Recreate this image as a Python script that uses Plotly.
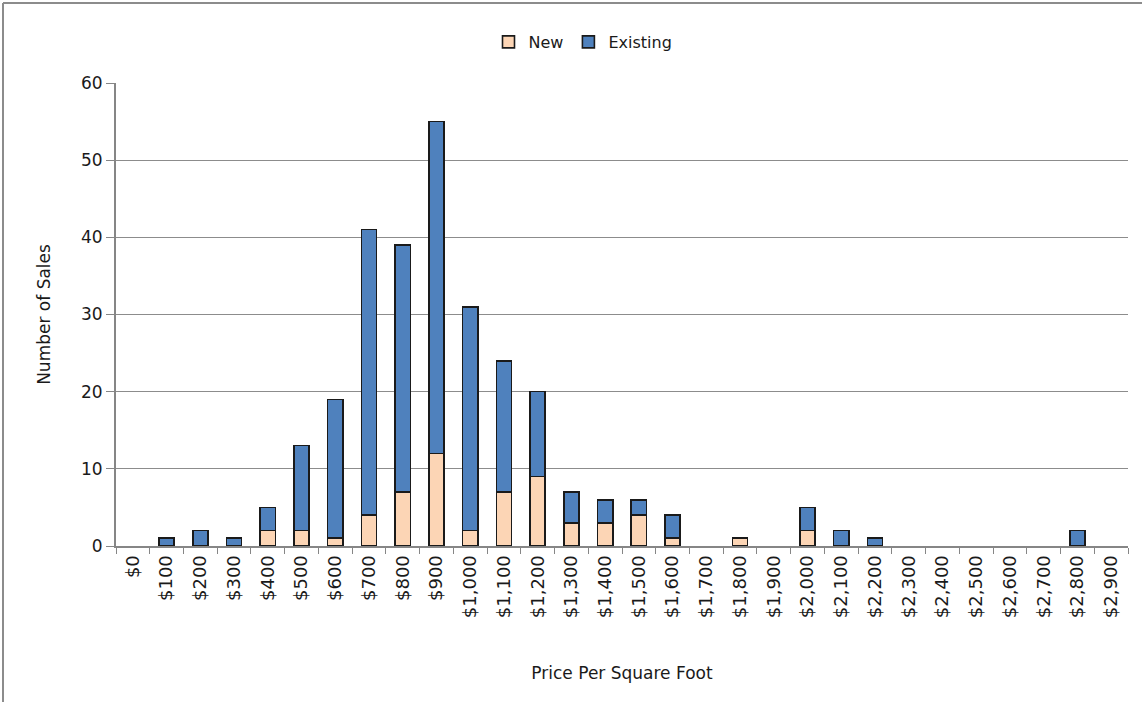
import plotly.graph_objects as go

# Price bins ($ per square foot) and sales counts per bin
price_bins = ["$0", "$100", "$200", "$300", "$400", "$500", "$600", "$700", "$800", "$900",
              "$1,000", "$1,100", "$1,200", "$1,300", "$1,400", "$1,500", "$1,600", "$1,700",
              "$1,800", "$1,900", "$2,000", "$2,100", "$2,200", "$2,300", "$2,400", "$2,500",
              "$2,600", "$2,700", "$2,800", "$2,900"]
new_sales = [0, 0, 0, 0, 2, 2, 1, 4, 7, 12,
             2, 7, 9, 3, 3, 4, 1, 0, 1, 0,
             2, 0, 0, 0, 0, 0, 0, 0, 0, 0]
existing_sales = [0, 1, 2, 1, 3, 11, 18, 37, 32, 43,
                  29, 17, 11, 4, 3, 2, 3, 0, 0, 0,
                  3, 2, 1, 0, 0, 0, 0, 0, 2, 0]
y_ticks = [0, 10, 20, 30, 40, 50, 60]

FONT = "'DejaVu Sans', sans-serif"
W, H = 1142, 702
L, R, T, B = 116, 14, 83, 156
pw, ph = W - L - R, H - T - B


def px_x(x):
    return (x - L) / pw


def px_y(y):
    return (H - B - y) / ph


def hide_zero(values):
    # empty bins get no bar (and therefore no outline)
    return [v if v else None for v in values]


fig = go.Figure()
fig.add_trace(go.Bar(x=price_bins, y=hide_zero(new_sales), name="New",
                     marker=dict(color="#FCD5B5", line=dict(color="#1a1a1a", width=1.6))))
fig.add_trace(go.Bar(x=price_bins, y=hide_zero(existing_sales), name="Existing",
                     marker=dict(color="#4F81BD", line=dict(color="#1a1a1a", width=1.6))))

# outer chart frame: top and left edges
frame = dict(color="#8c8c8c", width=2)
fig.add_shape(type="line", xref="paper", yref="paper",
              x0=px_x(3), x1=px_x(W + 20), y0=px_y(3), y1=px_y(3), line=frame)
fig.add_shape(type="line", xref="paper", yref="paper",
              x0=px_x(3), x1=px_x(3), y0=px_y(3), y1=px_y(H + 20), line=frame)

fig.update_layout(
    width=W, height=H,
    margin=dict(l=L, r=R, t=T, b=B),
    barmode="stack", bargap=0.55,
    paper_bgcolor="white", plot_bgcolor="white",
    font=dict(family=FONT, size=16, color="#1a1a1a"),
    showlegend=True,
    legend=dict(orientation="h", x=px_x(583), xanchor="center", y=px_y(42), yanchor="middle",
                font=dict(size=16), traceorder="normal", itemwidth=30,
                bgcolor="rgba(0,0,0,0)"),
    xaxis=dict(type="category", tickangle=-90, tickson="boundaries",
               ticks="outside", ticklen=6, tickcolor="#868686",
               showline=True, linecolor="#868686", linewidth=2,
               showgrid=False, tickfont=dict(size=18),
               title=dict(text="Price Per Square Foot", font=dict(size=17), standoff=50),
               range=[-0.5, len(price_bins) - 0.5]),
    yaxis=dict(range=[0, 60], tickvals=y_ticks, ticks="outside", ticklen=8,
               tickcolor="#868686", showline=True, linecolor="#868686", linewidth=2,
               showgrid=True, gridcolor="#8c8c8c", gridwidth=1.2, zeroline=False,
               tickfont=dict(size=17),
               title=dict(text="Number of Sales", font=dict(size=17), standoff=26)),
)

fig.write_html("out.html")
